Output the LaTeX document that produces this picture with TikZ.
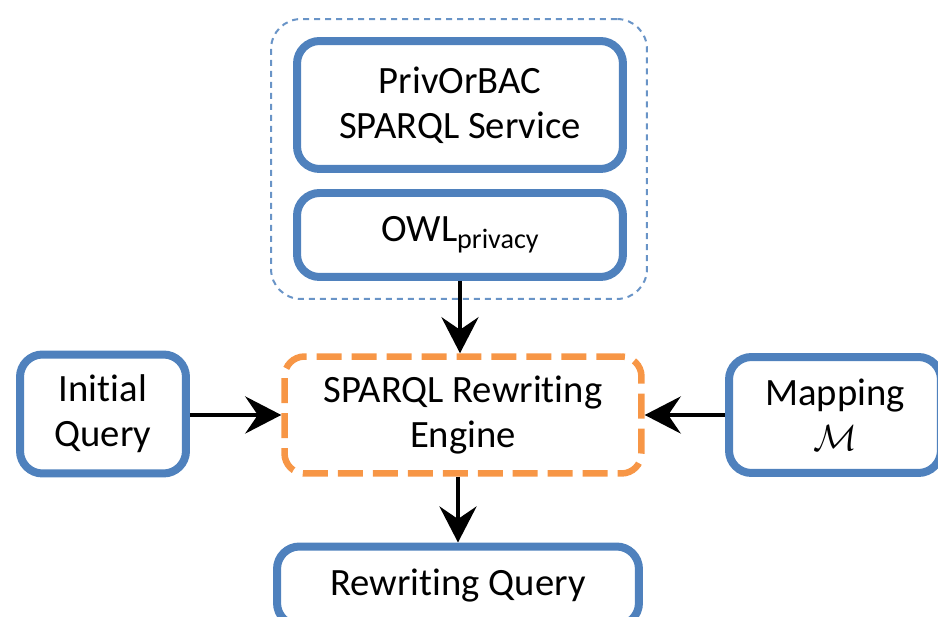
\documentclass[tikz,border=0pt]{standalone}
\usepackage{fontspec}
\setmainfont[Ligatures=NoCommon]{Carlito}
\usetikzlibrary{arrows.meta}

\definecolor{boxblue}{HTML}{4F81BD}
\definecolor{engorange}{HTML}{F79646}

\begin{document}
\begin{tikzpicture}[x=0.02cm, y=-0.02cm,
  every node/.style={font=\fontsize{22}{25.5}\selectfont, align=center, inner sep=0pt},
  bluebox/.style={draw=boxblue, line width=0.16cm, rounded corners=0.45cm},
  enginebox/.style={draw=engorange, line width=0.13cm, rounded corners=0.4cm,
    dash pattern=on 0.5cm off 0.2cm},
  groupbox/.style={draw=boxblue!85, line width=0.04cm, rounded corners=0.6cm,
    dash pattern=on 0.12cm off 0.1cm},
  flow/.style={-{Stealth[length=0.72cm, width=0.74cm, inset=0.25cm]}, line width=0.09cm}
]

% Page size in pixels of the reference
\newcommand{\picw}{938}
\newcommand{\pich}{617}
\useasboundingbox (0, 0) rectangle (\picw, \pich);

% Privacy group
\node [groupbox, minimum width=7.52cm, minimum height=5.6cm] (group) at (459, 159) {};
\node [bluebox, minimum width=6.52cm, minimum height=2.56cm] (priv) at (460, 105)
  {PrivOrBAC\\SPARQL Service};
\node [bluebox, minimum width=6.52cm, minimum height=1.68cm] (owl) at (460, 235)
  {OWL\raisebox{-0.4ex}{\fontsize{16}{16}\selectfont privacy}};

% Middle row
\node [bluebox, minimum width=3.32cm, minimum height=2.38cm] (init) at (103, 414)
  {Initial\\Query};
\node [enginebox, minimum width=7.14cm, minimum height=2.34cm] (engine) at (463, 415)
  {SPARQL Rewriting\\Engine};
\node [bluebox, minimum width=4.24cm, minimum height=2.32cm] (map) at (835, 415)
  {Mapping\\$\mathcal{M}$};

% Result
\node [bluebox, minimum width=7.24cm, minimum height=1.58cm] (rew) at (458, 586)
  {Rewriting Query};

% Arrows
\draw [flow] (owl.south) -- (owl.south |- engine.north);
\draw [flow] (init.east |- engine.west) -- (engine.west);
\draw [flow] (map.west |- engine.east) -- (engine.east);
\draw [flow] (rew.north |- engine.south) -- (rew.north);

\end{tikzpicture}
\end{document}
